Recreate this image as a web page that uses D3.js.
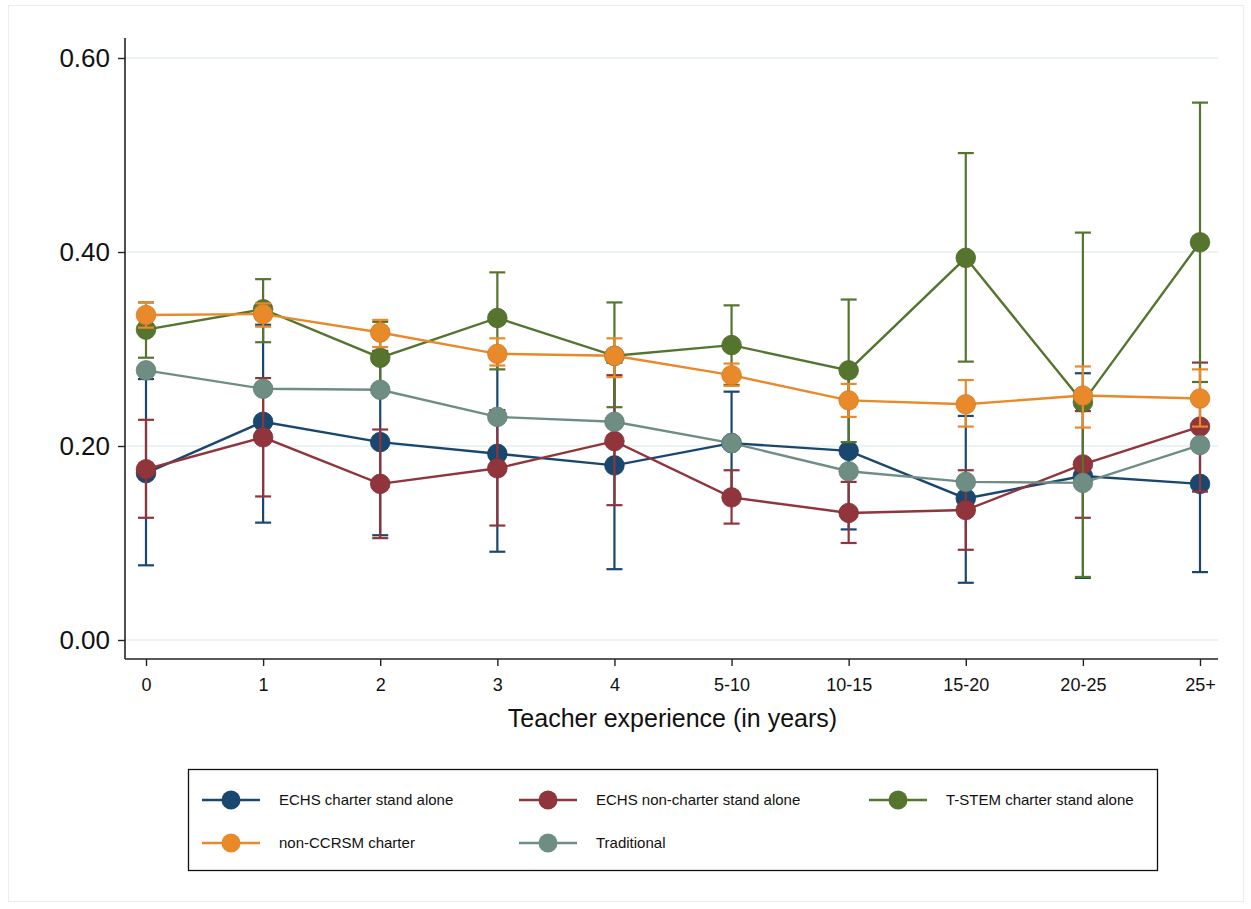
<!DOCTYPE html>
<html>
<head>
<meta charset="utf-8">
<script src="https://cdn.jsdelivr.net/npm/d3@7/dist/d3.min.js"></script>
<style>
  html, body { margin: 0; padding: 0; background: #fff; }
  svg { display: block; font-family: "Liberation Sans", Arial, Helvetica, sans-serif; }
</style>
</head>
<body>
<svg id="chart" width="1251" height="909"></svg>
<script>
// Teacher experience bins on the x axis
const categories = ["0", "1", "2", "3", "4", "5-10", "10-15", "15-20", "20-25", "25+"];
const yTicks = [0, 0.2, 0.4, 0.6];

// ECHS charter stand alone
const echsCharterMean = [0.172, 0.225, 0.204, 0.192, 0.180, 0.203, 0.195, 0.146, 0.169, 0.161];
const echsCharterLow  = [0.077, 0.121, 0.108, 0.091, 0.073, 0.150, 0.114, 0.059, 0.064, 0.070];
const echsCharterHigh = [0.269, 0.325, 0.298, 0.290, 0.286, 0.256, 0.276, 0.231, 0.275, 0.252];

// ECHS non-charter stand alone
const echsNonCharterMean = [0.176, 0.209, 0.161, 0.177, 0.205, 0.147, 0.131, 0.134, 0.181, 0.220];
const echsNonCharterLow  = [0.126, 0.148, 0.105, 0.118, 0.139, 0.120, 0.100, 0.093, 0.126, 0.153];
const echsNonCharterHigh = [0.227, 0.270, 0.217, 0.237, 0.273, 0.175, 0.163, 0.175, 0.236, 0.286];

// T-STEM charter stand alone
const tstemMean = [0.320, 0.341, 0.291, 0.332, 0.293, 0.304, 0.278, 0.394, 0.245, 0.410];
const tstemLow  = [0.291, 0.307, 0.254, 0.279, 0.240, 0.263, 0.204, 0.287, 0.065, 0.266];
const tstemHigh = [0.348, 0.372, 0.328, 0.379, 0.348, 0.345, 0.351, 0.502, 0.420, 0.554];

// non-CCRSM charter
const nonCcrsmMean = [0.335, 0.336, 0.317, 0.295, 0.293, 0.273, 0.247, 0.243, 0.252, 0.249];
const nonCcrsmLow  = [0.322, 0.323, 0.302, 0.283, 0.271, 0.262, 0.230, 0.220, 0.219, 0.220];
const nonCcrsmHigh = [0.348, 0.347, 0.330, 0.311, 0.311, 0.285, 0.264, 0.268, 0.282, 0.279];

// Traditional
const traditionalMean = [0.278, 0.259, 0.258, 0.230, 0.225, 0.203, 0.174, 0.163, 0.162, 0.201];
const traditionalLow  = [0.274, 0.255, 0.254, 0.226, 0.221, 0.199, 0.170, 0.159, 0.158, 0.197];
const traditionalHigh = [0.282, 0.263, 0.262, 0.234, 0.229, 0.207, 0.178, 0.167, 0.166, 0.205];

const seriesNames = ["ECHS charter stand alone", "ECHS non-charter stand alone", "T-STEM charter stand alone",
                     "non-CCRSM charter", "Traditional"];
const seriesColors = ["#1a476f", "#90353b", "#55752f", "#e8892a", "#6e8e84"];

const series = [
  { name: seriesNames[0], color: seriesColors[0], mean: echsCharterMean, low: echsCharterLow, high: echsCharterHigh },
  { name: seriesNames[1], color: seriesColors[1], mean: echsNonCharterMean, low: echsNonCharterLow, high: echsNonCharterHigh },
  { name: seriesNames[2], color: seriesColors[2], mean: tstemMean, low: tstemLow, high: tstemHigh },
  { name: seriesNames[3], color: seriesColors[3], mean: nonCcrsmMean, low: nonCcrsmLow, high: nonCcrsmHigh },
  { name: seriesNames[4], color: seriesColors[4], mean: traditionalMean, low: traditionalLow, high: traditionalHigh }
];

const svg = d3.select("#chart");

// faint outer frame
svg.append("rect").attr("x", 8.5).attr("y", 5.5).attr("width", 1235).attr("height", 896)
  .attr("fill", "#fff").attr("stroke", "#ececec").attr("stroke-width", 1);

const plot = { left: 125, right: 1218, top: 38, axisY: 659 };

const x = d3.scalePoint().domain(categories).range([146, 1200]);
const y = d3.scaleLinear().domain([0, 0.6]).range([640, 58]);

// gridlines
svg.append("g").selectAll("line").data(yTicks).join("line")
  .attr("x1", plot.left).attr("x2", plot.right)
  .attr("y1", d => y(d)).attr("y2", d => y(d))
  .attr("stroke", "#e6eff1").attr("stroke-width", 1.5);

// y axis
const yAxis = svg.append("g").attr("transform", `translate(${plot.left},0)`)
  .call(d3.axisLeft(y).tickValues(yTicks).tickFormat(d3.format(".2f")).tickSize(7).tickPadding(8));
yAxis.select(".domain").remove();
yAxis.append("line").attr("x1", 0).attr("x2", 0).attr("y1", plot.top).attr("y2", plot.axisY)
  .attr("stroke", "#222").attr("stroke-width", 1.6);
yAxis.selectAll(".tick line").attr("stroke", "#222").attr("stroke-width", 1.4);
yAxis.selectAll(".tick text").attr("fill", "#111").style("font-size", "26px")
  .style("font-family", "'Liberation Sans', Arial, sans-serif");

// x axis
const xAxis = svg.append("g").attr("transform", `translate(0,${plot.axisY})`)
  .call(d3.axisBottom(x).tickSize(7).tickPadding(12));
xAxis.select(".domain").remove();
xAxis.append("line").attr("x1", plot.left).attr("x2", plot.right).attr("y1", 0).attr("y2", 0)
  .attr("stroke", "#222").attr("stroke-width", 1.6);
xAxis.selectAll(".tick line").attr("stroke", "#222").attr("stroke-width", 1.4);
xAxis.selectAll(".tick text").attr("fill", "#111").style("font-size", "18px")
  .style("font-family", "'Liberation Sans', Arial, sans-serif");

svg.append("text").attr("x", (plot.left + plot.right) / 2 + 1).attr("y", 727)
  .attr("text-anchor", "middle").attr("fill", "#111")
  .style("font-size", "25px").text("Teacher experience (in years)");

// series: confidence-interval caps, connecting line, markers
const capHalf = 8;
const line = d3.line().x(d => x(d.cat)).y(d => y(d.v));

series.forEach(s => {
  const g = svg.append("g");
  const pts = categories.map((c, i) => ({ cat: c, v: s.mean[i], lo: s.low[i], hi: s.high[i] }));

  const eb = g.append("g").attr("stroke", s.color).attr("stroke-width", 2.2).attr("fill", "none");
  eb.selectAll("line.stem").data(pts).join("line").attr("class", "stem")
    .attr("x1", d => x(d.cat)).attr("x2", d => x(d.cat))
    .attr("y1", d => y(d.lo)).attr("y2", d => y(d.hi));
  eb.selectAll("line.capHi").data(pts).join("line").attr("class", "capHi")
    .attr("x1", d => x(d.cat) - capHalf).attr("x2", d => x(d.cat) + capHalf)
    .attr("y1", d => y(d.hi)).attr("y2", d => y(d.hi));
  eb.selectAll("line.capLo").data(pts).join("line").attr("class", "capLo")
    .attr("x1", d => x(d.cat) - capHalf).attr("x2", d => x(d.cat) + capHalf)
    .attr("y1", d => y(d.lo)).attr("y2", d => y(d.lo));

  g.append("path").datum(pts).attr("d", line)
    .attr("fill", "none").attr("stroke", s.color).attr("stroke-width", 2.4);

  g.selectAll("circle").data(pts).join("circle")
    .attr("cx", d => x(d.cat)).attr("cy", d => y(d.v)).attr("r", 9.8)
    .attr("fill", s.color).attr("stroke", d3.color(s.color).darker(0.3)).attr("stroke-width", 0.8);
});

// legend
const legend = svg.append("g");
legend.append("rect").attr("x", 188.5).attr("y", 769.5).attr("width", 969).attr("height", 101)
  .attr("fill", "#fff").attr("stroke", "#111").attr("stroke-width", 1.3);

const legendCols = [202, 519, 869];
const legendRows = [800, 843];
series.forEach((s, i) => {
  const lx = legendCols[i % 3];
  const ly = legendRows[Math.floor(i / 3)];
  const item = legend.append("g").attr("transform", `translate(${lx},${ly})`);
  item.append("line").attr("x1", 0).attr("x2", 58).attr("y1", 0).attr("y2", 0)
    .attr("stroke", s.color).attr("stroke-width", 2.4);
  item.append("circle").attr("cx", 29).attr("cy", 0).attr("r", 9.5).attr("fill", s.color);
  item.append("text").attr("x", 77).attr("y", 0).attr("dy", "0.35em")
    .attr("fill", "#111").style("font-size", "15px").text(s.name);
});
</script>
</body>
</html>
